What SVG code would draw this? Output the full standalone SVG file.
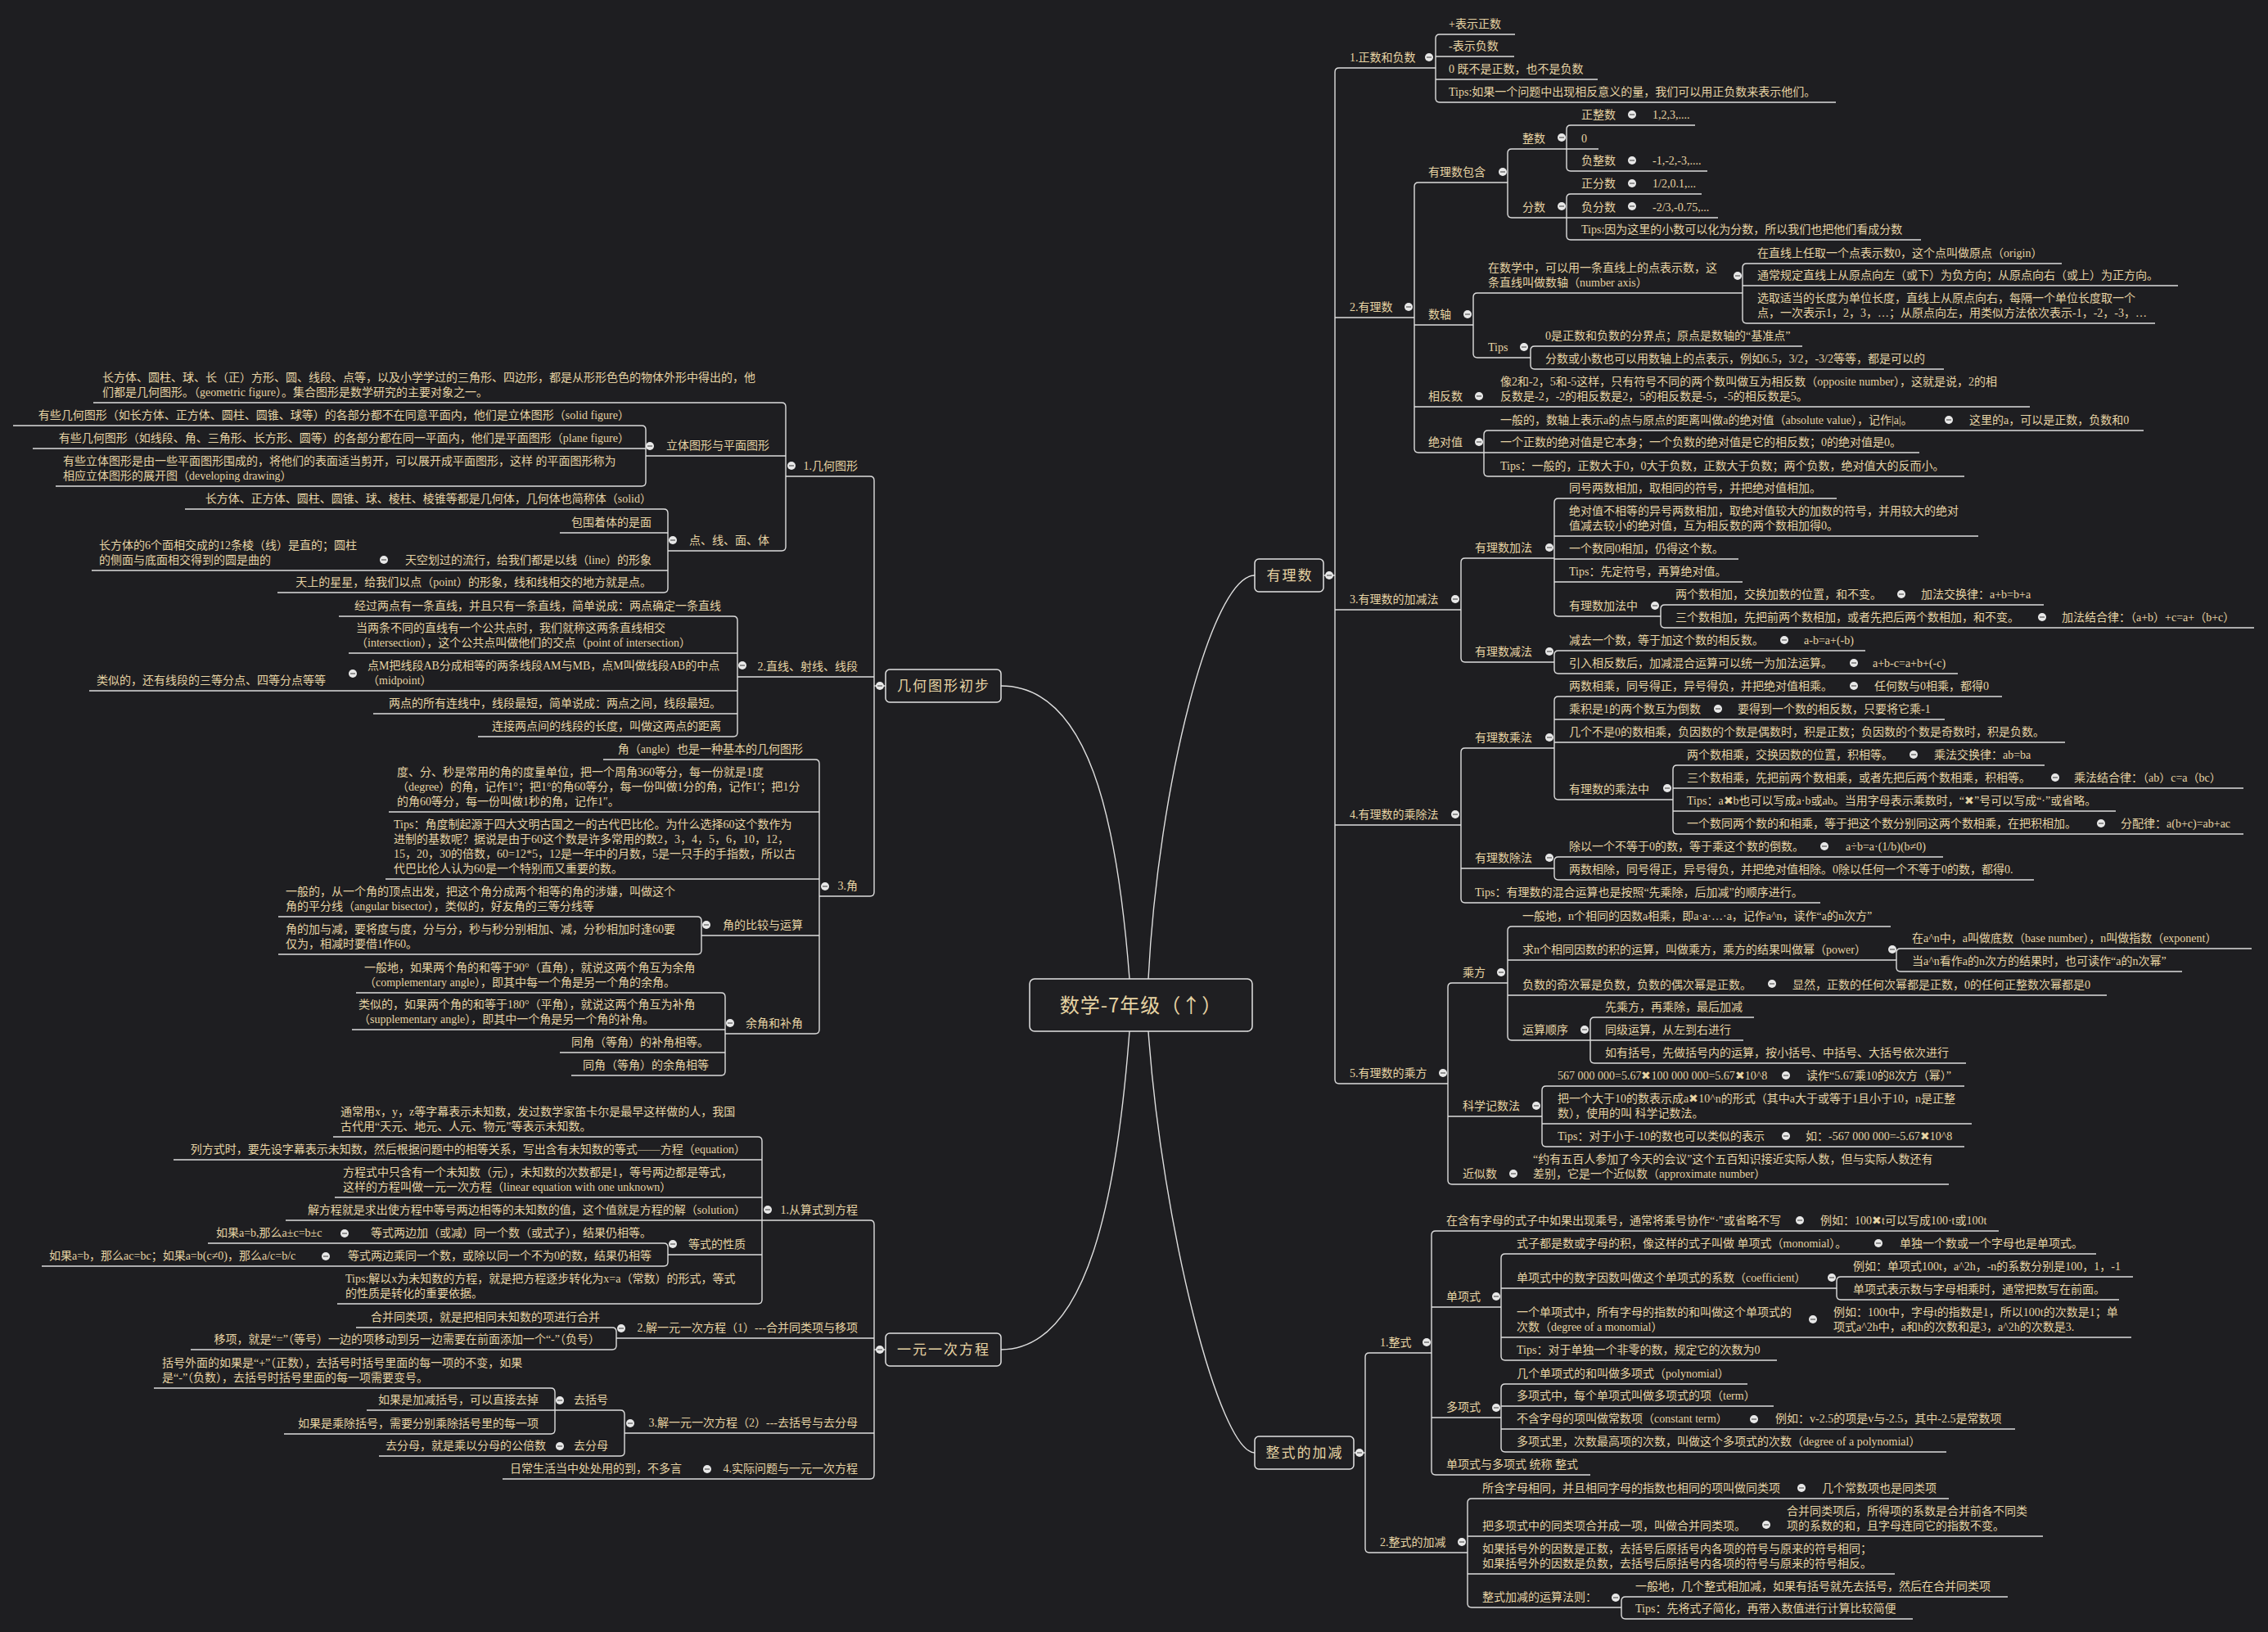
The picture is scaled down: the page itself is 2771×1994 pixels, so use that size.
<svg xmlns="http://www.w3.org/2000/svg" xmlns:xlink="http://www.w3.org/1999/xlink" width="2771" height="1994" viewBox="0 0 2771 1994">
<style>
.t{font-family:"Liberation Serif","Noto Sans CJK SC",serif;font-size:14px;fill:#e6d3a3}
.e{text-anchor:end}
.m{font-family:"Noto Sans CJK SC","Liberation Sans",sans-serif;font-size:17px;fill:#e6d3a3;letter-spacing:2px;text-anchor:middle}
.c{font-size:24px;letter-spacing:1px}
path{fill:none;stroke:#dedede;stroke-width:1.4}
rect.b{fill:#1f1f22;stroke:#e2e2e2;stroke-width:1.5}
</style>
<defs>
<g id="d"><circle r="5" fill="#e8e8e8"/><line x1="-3" x2="3" y1="0" y2="0" stroke="#6a6a6a" stroke-width="1.4"/></g>
</defs>
<rect width="2771" height="1994" fill="#1e1e21"/>

<g id="connectors">
<path d="M1403,1196 C1415,960 1480,703 1533,703"/>
<path d="M1380,1196 C1365,1000 1330,838 1223,838"/>
<path d="M1380,1260 C1365,1458 1330,1649 1223,1649"/>
<path d="M1403,1260 C1420,1500 1490,1775 1533,1775"/>
<path d="M1617,703H1631M1654,1775H1668M1082,838H1068M1082,1649H1068"/>
<path d="M1636,83Q1631,83 1631,88V1319Q1631,1324 1636,1324"/>
<path d="M1759,42Q1754,42 1754,47V120Q1754,125 1759,125"/>
<path d="M1733,223Q1728,223 1728,228V548Q1728,553 1733,553"/>
<path d="M1847,182Q1842,182 1842,187V261Q1842,266 1847,266"/>
<path d="M1919,153Q1914,153 1914,158V204Q1914,209 1919,209"/>
<path d="M1919,237Q1914,237 1914,242V288Q1914,293 1919,293"/>
<path d="M1805,358Q1800,358 1800,363V432Q1800,437 1805,437"/>
<path d="M2134,322Q2129,322 2129,327V390Q2129,395 2134,395"/>
<path d="M1875,423Q1870,423 1870,428V446Q1870,451 1875,451"/>
<path d="M1818,526Q1813,526 1813,531V577Q1813,582 1818,582"/>
<path d="M1790,682Q1785,682 1785,687V804Q1785,809 1790,809"/>
<path d="M1904,609Q1899,609 1899,614V748Q1899,753 1904,753"/>
<path d="M2034,739Q2029,739 2029,744V762Q2029,767 2034,767"/>
<path d="M1904,795Q1899,795 1899,800V818Q1899,823 1904,823"/>
<path d="M1790,914Q1785,914 1785,919V1098Q1785,1103 1790,1103"/>
<path d="M1904,851Q1899,851 1899,856V972Q1899,977 1904,977"/>
<path d="M2049,935Q2044,935 2044,940V1014Q2044,1019 2049,1019"/>
<path d="M1904,1047Q1899,1047 1899,1052V1070Q1899,1075 1904,1075"/>
<path d="M1774,1201Q1769,1201 1769,1206V1442Q1769,1447 1774,1447"/>
<path d="M1847,1132Q1842,1132 1842,1137V1266Q1842,1271 1847,1271"/>
<path d="M2322,1159Q2317,1159 2317,1164V1182Q2317,1187 2322,1187"/>
<path d="M1948,1243Q1943,1243 1943,1248V1294Q1943,1299 1948,1299"/>
<path d="M1889,1327Q1884,1327 1884,1332V1396Q1884,1401 1889,1401"/>
<path d="M1673,1653Q1668,1653 1668,1658V1892Q1668,1897 1673,1897"/>
<path d="M1754,1504Q1749,1504 1749,1509V1797Q1749,1802 1754,1802"/>
<path d="M1839,1532Q1834,1532 1834,1537V1657Q1834,1662 1839,1662"/>
<path d="M2249,1560Q2244,1560 2244,1565V1583Q2244,1588 2249,1588"/>
<path d="M1839,1691Q1834,1691 1834,1696V1769Q1834,1774 1839,1774"/>
<path d="M1798,1831Q1793,1831 1793,1836V1959Q1793,1964 1798,1964"/>
<path d="M1986,1951Q1981,1951 1981,1956V1973Q1981,1978 1986,1978"/>
<path d="M1063,582Q1068,582 1068,587V1090Q1068,1095 1063,1095"/>
<path d="M955,492Q960,492 960,497V668Q960,673 955,673"/>
<path d="M784,520Q789,520 789,525V589Q789,594 784,594"/>
<path d="M811,622Q816,622 816,627V719Q816,724 811,724"/>
<path d="M896,753Q901,753 901,758V895Q901,900 896,900"/>
<path d="M996,928Q1001,928 1001,933V1258Q1001,1263 996,1263"/>
<path d="M852,1120Q857,1120 857,1125V1161Q857,1166 852,1166"/>
<path d="M881,1213Q886,1213 886,1218V1309Q886,1314 881,1314"/>
<path d="M1063,1491Q1068,1491 1068,1496V1802Q1068,1807 1063,1807"/>
<path d="M926,1389Q931,1389 931,1394V1588Q931,1593 926,1593"/>
<path d="M811,1519Q816,1519 816,1524V1542Q816,1547 811,1547"/>
<path d="M748,1622Q753,1622 753,1627V1644Q753,1649 748,1649"/>
<path d="M758,1723Q763,1723 763,1728V1774Q763,1779 758,1779"/>
<path d="M673,1696Q678,1696 678,1701V1747Q678,1752 673,1752"/>
</g>

<g id="root"><rect class="b" x="1258" y="1196" width="272" height="64" rx="6"/><text class="m c" x="1394" y="1237">数学-7年级（↑）</text></g>
<g id="main-youlishu"><rect class="b" x="1533" y="683" width="84" height="40" rx="5"/><text class="m" x="1576" y="709">有理数</text><use xlink:href="#d" x="1624" y="703"/></g>
<g id="main-zhengshi"><rect class="b" x="1533" y="1755" width="121" height="40" rx="5"/><text class="m" x="1594" y="1781">整式的加减</text><use xlink:href="#d" x="1661" y="1775"/></g>
<g id="main-jihe"><rect class="b" x="1082" y="818" width="141" height="40" rx="5"/><text class="m" x="1153" y="844">几何图形初步</text><use xlink:href="#d" x="1075" y="838"/></g>
<g id="main-fangcheng"><rect class="b" x="1082" y="1629" width="141" height="40" rx="5"/><text class="m" x="1153" y="1655">一元一次方程</text><use xlink:href="#d" x="1075" y="1649"/></g>

<!-- 有理数 -->
<g id="r1"><path d="M1636,83H1754"/><text class="t" x="1649" y="75">1.正数和负数</text><use xlink:href="#d" x="1746" y="70"/></g>
<g id="r1a"><path d="M1759,42H1851"/><text class="t" x="1770" y="34">+表示正数</text></g>
<g id="r1b"><path d="M1754,69H1850"/><text class="t" x="1770" y="61">-表示负数</text></g>
<g id="r1c"><path d="M1754,97H1952"/><text class="t" x="1770" y="89">0 既不是正数，也不是负数</text></g>
<g id="r1d"><path d="M1759,125H2243"/><text class="t" x="1770" y="117">Tips:如果一个问题中出现相反意义的量，我们可以用正负数来表示他们。</text></g>

<g id="r2"><path d="M1631,388H1728"/><text class="t" x="1649" y="380">2.有理数</text><use xlink:href="#d" x="1721" y="375"/></g>
<g id="r2a"><path d="M1733,223H1842"/><text class="t" x="1745" y="215">有理数包含</text><use xlink:href="#d" x="1836" y="210"/></g>
<g id="r2a1"><path d="M1847,182H1914"/><text class="t" x="1860" y="174">整数</text><use xlink:href="#d" x="1908" y="168"/></g>
<g id="r2a1a"><path d="M1919,153H2071"/><text class="t" x="1932" y="145">正整数</text><use xlink:href="#d" x="1994" y="140"/><text class="t" x="2019" y="145">1,2,3,....</text></g>
<g id="r2a1b"><path d="M1914,182H1953"/><text class="t" x="1932" y="174">0</text></g>
<g id="r2a1c"><path d="M1919,209H2086"/><text class="t" x="1932" y="201">负整数</text><use xlink:href="#d" x="1994" y="196"/><text class="t" x="2019" y="201">-1,-2,-3,....</text></g>
<g id="r2a2"><path d="M1847,266H1914"/><text class="t" x="1860" y="258">分数</text><use xlink:href="#d" x="1908" y="252"/></g>
<g id="r2a2a"><path d="M1919,237H2079"/><text class="t" x="1932" y="229">正分数</text><use xlink:href="#d" x="1994" y="224"/><text class="t" x="2019" y="229">1/2,0.1,...</text></g>
<g id="r2a2b"><path d="M1914,266H2099"/><text class="t" x="1932" y="258">负分数</text><use xlink:href="#d" x="1994" y="252"/><text class="t" x="2019" y="258">-2/3,-0.75,...</text></g>
<g id="r2a2c"><path d="M1919,293H2347"/><text class="t" x="1932" y="285">Tips:因为这里的小数可以化为分数，所以我们也把他们看成分数</text></g>
<g id="r2b"><path d="M1728,397H1800"/><text class="t" x="1745" y="389">数轴</text><use xlink:href="#d" x="1793" y="384"/></g>
<g id="r2b1"><path d="M1805,358H2129"/><text class="t" x="1818" y="332">在数学中，可以用一条直线上的点表示数，这<tspan x="1818" dy="18">条直线叫做数轴（number axis）</tspan></text><use xlink:href="#d" x="2123" y="337"/></g>
<g id="r2b1a"><path d="M2134,322H2519"/><text class="t" x="2147" y="314">在直线上任取一个点表示数0，这个点叫做原点（origin）</text></g>
<g id="r2b1b"><path d="M2129,349H2661"/><text class="t" x="2147" y="341">通常规定直线上从原点向左（或下）为负方向；从原点向右（或上）为正方向。</text></g>
<g id="r2b1c"><path d="M2134,395H2633"/><text class="t" x="2147" y="369">选取适当的长度为单位长度，直线上从原点向右，每隔一个单位长度取一个<tspan x="2147" dy="18">点，一次表示1，2，3，…；从原点向左，用类似方法依次表示-1，-2，-3，…</tspan></text></g>
<g id="r2b2"><path d="M1805,437H1870"/><text class="t" x="1818" y="429">Tips</text><use xlink:href="#d" x="1862" y="424"/></g>
<g id="r2b2a"><path d="M1875,423H2202"/><text class="t" x="1888" y="415">0是正数和负数的分界点；原点是数轴的“基准点”</text></g>
<g id="r2b2b"><path d="M1875,451H2375"/><text class="t" x="1888" y="443">分数或小数也可以用数轴上的点表示，例如6.5，3/2，-3/2等等，都是可以的</text></g>
<g id="r2c"><path d="M1728,497H2480"/><text class="t" x="1745" y="489">相反数</text><use xlink:href="#d" x="1807" y="484"/><text class="t" x="1833" y="471">像2和-2，5和-5这样，只有符号不同的两个数叫做互为相反数（opposite number），这就是说，2的相<tspan x="1833" dy="18">反数是-2，-2的相反数是2，5的相反数是-5，-5的相反数是5。</tspan></text></g>
<g id="r2d"><path d="M1733,553H1813"/><text class="t" x="1745" y="545">绝对值</text><use xlink:href="#d" x="1807" y="540"/></g>
<g id="r2d1"><path d="M1818,526H2619"/><text class="t" x="1833" y="518">一般的，数轴上表示a的点与原点的距离叫做a的绝对值（absolute value），记作|a|。</text><use xlink:href="#d" x="2381" y="513"/><text class="t" x="2406" y="518">这里的a，可以是正数，负数和0</text></g>
<g id="r2d2"><path d="M1813,553H2345"/><text class="t" x="1833" y="545">一个正数的绝对值是它本身；一个负数的绝对值是它的相反数；0的绝对值是0。</text></g>
<g id="r2d3"><path d="M1818,582H2400"/><text class="t" x="1833" y="574">Tips：一般的，正数大于0，0大于负数，正数大于负数；两个负数，绝对值大的反而小。</text></g>

<g id="r3"><path d="M1631,745H1785"/><text class="t" x="1649" y="737">3.有理数的加减法</text><use xlink:href="#d" x="1778" y="732"/></g>
<g id="r3a"><path d="M1790,682H1899"/><text class="t" x="1802" y="674">有理数加法</text><use xlink:href="#d" x="1893" y="669"/></g>
<g id="r3a1"><path d="M1904,609H2244"/><text class="t" x="1917" y="601">同号两数相加，取相同的符号，并把绝对值相加。</text></g>
<g id="r3a2"><path d="M1899,655H2417"/><text class="t" x="1917" y="629">绝对值不相等的异号两数相加，取绝对值较大的加数的符号，并用较大的绝对<tspan x="1917" dy="18">值减去较小的绝对值，互为相反数的两个数相加得0。</tspan></text></g>
<g id="r3a3"><path d="M1899,683H2124"/><text class="t" x="1917" y="675">一个数同0相加，仍得这个数。</text></g>
<g id="r3a4"><path d="M1899,711H2129"/><text class="t" x="1917" y="703">Tips：先定符号，再算绝对值。</text></g>
<g id="r3a5"><path d="M1904,753H2029"/><text class="t" x="1917" y="745">有理数加法中</text><use xlink:href="#d" x="2022" y="740"/></g>
<g id="r3a5a"><path d="M2034,739H2497"/><text class="t" x="2047" y="731">两个数相加，交换加数的位置，和不变。</text><use xlink:href="#d" x="2323" y="726"/><text class="t" x="2347" y="731">加法交换律：a+b=b+a</text></g>
<g id="r3a5b"><path d="M2034,767H2754"/><text class="t" x="2047" y="759">三个数相加，先把前两个数相加，或者先把后两个数相加，和不变。</text><use xlink:href="#d" x="2495" y="754"/><text class="t" x="2519" y="759">加法结合律：（a+b）+c=a+（b+c）</text></g>
<g id="r3b"><path d="M1790,809H1899"/><text class="t" x="1802" y="801">有理数减法</text><use xlink:href="#d" x="1893" y="796"/></g>
<g id="r3b1"><path d="M1904,795H2279"/><text class="t" x="1917" y="787">减去一个数，等于加这个数的相反数。</text><use xlink:href="#d" x="2180" y="782"/><text class="t" x="2204" y="787">a-b=a+(-b)</text></g>
<g id="r3b2"><path d="M1904,823H2392"/><text class="t" x="1917" y="815">引入相反数后，加减混合运算可以统一为加法运算。</text><use xlink:href="#d" x="2265" y="810"/><text class="t" x="2288" y="815">a+b-c=a+b+(-c)</text></g>

<g id="r4"><path d="M1631,1008H1785"/><text class="t" x="1649" y="1000">4.有理数的乘除法</text><use xlink:href="#d" x="1778" y="995"/></g>
<g id="r4a"><path d="M1790,914H1899"/><text class="t" x="1802" y="906">有理数乘法</text><use xlink:href="#d" x="1893" y="901"/></g>
<g id="r4a1"><path d="M1904,851H2446"/><text class="t" x="1917" y="843">两数相乘，同号得正，异号得负，并把绝对值相乘。</text><use xlink:href="#d" x="2265" y="838"/><text class="t" x="2290" y="843">任何数与0相乘，都得0</text></g>
<g id="r4a2"><path d="M1899,879H2376"/><text class="t" x="1917" y="871">乘积是1的两个数互为倒数</text><use xlink:href="#d" x="2099" y="866"/><text class="t" x="2123" y="871">要得到一个数的相反数，只要将它乘-1</text></g>
<g id="r4a3"><path d="M1899,907H2523"/><text class="t" x="1917" y="899">几个不是0的数相乘，负因数的个数是偶数时，积是正数；负因数的个数是奇数时，积是负数。</text></g>
<g id="r4a4"><path d="M1904,977H2044"/><text class="t" x="1917" y="969">有理数的乘法中</text><use xlink:href="#d" x="2037" y="963"/></g>
<g id="r4a4a"><path d="M2049,935H2498"/><text class="t" x="2061" y="927">两个数相乘，交换因数的位置，积相等。</text><use xlink:href="#d" x="2338" y="922"/><text class="t" x="2363" y="927">乘法交换律：ab=ba</text></g>
<g id="r4a4b"><path d="M2044,963H2741"/><text class="t" x="2061" y="955">三个数相乘，先把前两个数相乘，或者先把后两个数相乘，积相等。</text><use xlink:href="#d" x="2511" y="950"/><text class="t" x="2534" y="955">乘法结合律：（ab）c=a（bc）</text></g>
<g id="r4a4c"><path d="M2044,991H2585"/><text class="t" x="2061" y="983">Tips：a✖b也可以写成a·b或ab。当用字母表示乘数时，“✖”号可以写成“·”或省略。</text></g>
<g id="r4a4d"><path d="M2049,1019H2741"/><text class="t" x="2061" y="1011">一个数同两个数的和相乘，等于把这个数分别同这两个数相乘，在把积相加。</text><use xlink:href="#d" x="2567" y="1006"/><text class="t" x="2591" y="1011">分配律：a(b+c)=ab+ac</text></g>
<g id="r4b"><path d="M1785,1061H1899"/><text class="t" x="1802" y="1053">有理数除法</text><use xlink:href="#d" x="1893" y="1048"/></g>
<g id="r4b1"><path d="M1904,1047H2374"/><text class="t" x="1917" y="1039">除以一个不等于0的数，等于乘这个数的倒数。</text><use xlink:href="#d" x="2229" y="1034"/><text class="t" x="2255" y="1039">a÷b=a·(1/b)(b≠0)</text></g>
<g id="r4b2"><path d="M1904,1075H2485"/><text class="t" x="1917" y="1067">两数相除，同号得正，异号得负，并把绝对值相除。0除以任何一个不等于0的数，都得0.</text></g>
<g id="r4c"><path d="M1790,1103H2224"/><text class="t" x="1802" y="1095">Tips：有理数的混合运算也是按照“先乘除，后加减”的顺序进行。</text></g>

<g id="r5"><path d="M1636,1324H1769"/><text class="t" x="1649" y="1316">5.有理数的乘方</text><use xlink:href="#d" x="1763" y="1311"/></g>
<g id="r5a"><path d="M1774,1201H1842"/><text class="t" x="1787" y="1193">乘方</text><use xlink:href="#d" x="1834" y="1188"/></g>
<g id="r5a1"><path d="M1847,1132H2310"/><text class="t" x="1860" y="1124">一般地，n个相同的因数a相乘，即a·a·…·a，记作a^n，读作“a的n次方”</text></g>
<g id="r5a2"><path d="M1842,1173H2317"/><text class="t" x="1860" y="1165">求n个相同因数的积的运算，叫做乘方，乘方的结果叫做幂（power）</text><use xlink:href="#d" x="2312" y="1160"/></g>
<g id="r5a2a"><path d="M2322,1159H2751"/><text class="t" x="2336" y="1151">在a^n中，a叫做底数（base number），n叫做指数（exponent）</text></g>
<g id="r5a2b"><path d="M2322,1187H2666"/><text class="t" x="2336" y="1179">当a^n看作a的n次方的结果时，也可读作“a的n次幂”</text></g>
<g id="r5a3"><path d="M1842,1216H2574"/><text class="t" x="1860" y="1208">负数的奇次幂是负数，负数的偶次幂是正数。</text><use xlink:href="#d" x="2165" y="1202"/><text class="t" x="2190" y="1208">显然，正数的任何次幂都是正数，0的任何正整数次幂都是0</text></g>
<g id="r5a4"><path d="M1847,1271H1943"/><text class="t" x="1860" y="1263">运算顺序</text><use xlink:href="#d" x="1936" y="1258"/></g>
<g id="r5a4a"><path d="M1948,1243H2143"/><text class="t" x="1961" y="1235">先乘方，再乘除，最后加减</text></g>
<g id="r5a4b"><path d="M1943,1271H2130"/><text class="t" x="1961" y="1263">同级运算，从左到右进行</text></g>
<g id="r5a4c"><path d="M1948,1299H2402"/><text class="t" x="1961" y="1291">如有括号，先做括号内的运算，按小括号、中括号、大括号依次进行</text></g>
<g id="r5b"><path d="M1769,1364H1884"/><text class="t" x="1787" y="1356">科学记数法</text><use xlink:href="#d" x="1877" y="1351"/></g>
<g id="r5b1"><path d="M1889,1327H2400"/><text class="t" x="1903" y="1319">567 000 000=5.67✖100 000 000=5.67✖10^8</text><use xlink:href="#d" x="2182" y="1314"/><text class="t" x="2207" y="1319">读作“5.67乘10的8次方（幂）”</text></g>
<g id="r5b2"><path d="M1884,1373H2409"/><text class="t" x="1903" y="1347">把一个大于10的数表示成a✖10^n的形式（其中a大于或等于1且小于10，n是正整<tspan x="1903" dy="18">数），使用的叫 科学记数法。</tspan></text></g>
<g id="r5b3"><path d="M1889,1401H2400"/><text class="t" x="1903" y="1393">Tips：对于小于-10的数也可以类似的表示</text><use xlink:href="#d" x="2182" y="1388"/><text class="t" x="2206" y="1393">如：-567 000 000=-5.67✖10^8</text></g>
<g id="r5c"><path d="M1774,1447H2381"/><text class="t" x="1787" y="1439">近似数</text><use xlink:href="#d" x="1849" y="1434"/><text class="t" x="1873" y="1421">“约有五百人参加了今天的会议”这个五百知识接近实际人数，但与实际人数还有<tspan x="1873" dy="18">差别，它是一个近似数（approximate number）</tspan></text></g>

<!-- 整式的加减 -->
<g id="z1"><path d="M1673,1653H1749"/><text class="t" x="1686" y="1645">1.整式</text><use xlink:href="#d" x="1743" y="1640"/></g>
<g id="z1a"><path d="M1754,1504H2442"/><text class="t" x="1767" y="1496">在含有字母的式子中如果出现乘号，通常将乘号协作“·”或省略不写</text><use xlink:href="#d" x="2199" y="1491"/><text class="t" x="2224" y="1496">例如：100✖t可以写成100·t或100t</text></g>
<g id="z1b"><path d="M1749,1597H1834"/><text class="t" x="1767" y="1589">单项式</text><use xlink:href="#d" x="1828" y="1584"/></g>
<g id="z1b1"><path d="M1839,1532H2561"/><text class="t" x="1853" y="1524">式子都是数或字母的积，像这样的式子叫做 单项式（monomial）。</text><use xlink:href="#d" x="2295" y="1519"/><text class="t" x="2321" y="1524">单独一个数或一个字母也是单项式。</text></g>
<g id="z1b2"><path d="M1834,1574H2244"/><text class="t" x="1853" y="1566">单项式中的数字因数叫做这个单项式的系数（coefficient）</text><use xlink:href="#d" x="2238" y="1561"/></g>
<g id="z1b2a"><path d="M2249,1560H2606"/><text class="t" x="2264" y="1552">例如：单项式100t，a^2h，-n的系数分别是100，1，-1</text></g>
<g id="z1b2b"><path d="M2249,1588H2589"/><text class="t" x="2264" y="1580">单项式表示数与字母相乘时，通常把数写在前面。</text></g>
<g id="z1b3"><path d="M1834,1634H2604"/><text class="t" x="1853" y="1608">一个单项式中，所有字母的指数的和叫做这个单项式的<tspan x="1853" dy="18">次数（degree of a monomial）</tspan></text><use xlink:href="#d" x="2215" y="1612"/><text class="t" x="2240" y="1608">例如：100t中，字母t的指数是1，所以100t的次数是1；单<tspan x="2240" dy="18">项式a^2h中，a和h的次数和是3，a^2h的次数是3.</tspan></text></g>
<g id="z1b4"><path d="M1839,1662H2171"/><text class="t" x="1853" y="1654">Tips：对于单独一个非零的数，规定它的次数为0</text></g>
<g id="z1c"><path d="M1749,1732H1834"/><text class="t" x="1767" y="1724">多项式</text><use xlink:href="#d" x="1828" y="1720"/></g>
<g id="z1c1"><path d="M1839,1691H2135"/><text class="t" x="1853" y="1683">几个单项式的和叫做多项式（polynomial）</text></g>
<g id="z1c2"><path d="M1834,1718H2167"/><text class="t" x="1853" y="1710">多项式中，每个单项式叫做多项式的项（term）</text></g>
<g id="z1c3"><path d="M1834,1746H2462"/><text class="t" x="1853" y="1738">不含字母的项叫做常数项（constant term）</text><use xlink:href="#d" x="2143" y="1734"/><text class="t" x="2169" y="1738">例如：v-2.5的项是v与-2.5，其中-2.5是常数项</text></g>
<g id="z1c4"><path d="M1839,1774H2378"/><text class="t" x="1853" y="1766">多项式里，次数最高项的次数，叫做这个多项式的次数（degree of a polynomial）</text></g>
<g id="z1d"><path d="M1754,1802H1943"/><text class="t" x="1767" y="1794">单项式与多项式 统称 整式</text></g>
<g id="z2"><path d="M1673,1897H1793"/><text class="t" x="1686" y="1889">2.整式的加减</text><use xlink:href="#d" x="1786" y="1884"/></g>
<g id="z2a"><path d="M1798,1831H2381"/><text class="t" x="1811" y="1823">所含字母相同，并且相同字母的指数也相同的项叫做同类项</text><use xlink:href="#d" x="2201" y="1818"/><text class="t" x="2226" y="1823">几个常数项也是同类项</text></g>
<g id="z2b"><path d="M1793,1877H2496"/><text class="t" x="1811" y="1869">把多项式中的同类项合并成一项，叫做合并同类项。</text><use xlink:href="#d" x="2158" y="1863"/><text class="t" x="2183" y="1851">合并同类项后，所得项的系数是合并前各不同类<tspan x="2183" dy="18">项的系数的和，且字母连同它的指数不变。</tspan></text></g>
<g id="z2c"><path d="M1793,1923H2315"/><text class="t" x="1811" y="1897">如果括号外的因数是正数，去括号后原括号内各项的符号与原来的符号相同；<tspan x="1811" dy="18">如果括号外的因数是负数，去括号后原括号内各项的符号与原来的符号相反。</tspan></text></g>
<g id="z2d"><path d="M1798,1964H1981"/><text class="t" x="1811" y="1956">整式加减的运算法则：</text><use xlink:href="#d" x="1974" y="1952"/></g>
<g id="z2d1"><path d="M1986,1951H2453"/><text class="t" x="1998" y="1943">一般地，几个整式相加减，如果有括号就先去括号，然后在合并同类项</text></g>
<g id="z2d2"><path d="M1986,1978H2337"/><text class="t" x="1998" y="1970">Tips：先将式子简化，再带入数值进行计算比较简便</text></g>

<!-- 几何图形初步 -->
<g id="g1"><path d="M1063,582H960"/><text class="t e" x="1048" y="574">1.几何图形</text><use xlink:href="#d" x="967" y="569"/></g>
<g id="g1a"><path d="M955,492H114"/><text class="t" x="125" y="466">长方体、圆柱、球、长（正）方形、圆、线段、点等，以及小学学过的三角形、四边形，都是从形形色色的物体外形中得出的，他<tspan x="125" dy="18">们都是几何图形。（geometric figure）。集合图形是数学研究的主要对象之一。</tspan></text></g>
<g id="g1b"><path d="M960,557H789"/><text class="t e" x="940" y="549">立体图形与平面图形</text><use xlink:href="#d" x="794" y="545"/></g>
<g id="g1b1"><path d="M784,520H16"/><text class="t e" x="769" y="512">有些几何图形（如长方体、正方体、圆柱、圆锥、球等）的各部分都不在同意平面内，他们是立体图形（solid figure）</text></g>
<g id="g1b2"><path d="M789,548H40"/><text class="t e" x="769" y="540">有些几何图形（如线段、角、三角形、长方形、圆等）的各部分都在同一平面内，他们是平面图形（plane figure）</text></g>
<g id="g1b3"><path d="M784,594H68"/><text class="t" x="77" y="568">有些立体图形是由一些平面图形围成的，将他们的表面适当剪开，可以展开成平面图形，这样 的平面图形称为<tspan x="77" dy="18">相应立体图形的展开图（developing drawing）</tspan></text></g>
<g id="g1c"><path d="M955,673H816"/><text class="t e" x="940" y="665">点、线、面、体</text><use xlink:href="#d" x="822" y="660"/></g>
<g id="g1c1"><path d="M811,622H226"/><text class="t e" x="796" y="614">长方体、正方体、圆柱、圆锥、球、棱柱、棱锥等都是几何体，几何体也简称体（solid）</text></g>
<g id="g1c2"><path d="M816,651H684"/><text class="t e" x="796" y="643">包围着体的是面</text></g>
<g id="g1c3"><path d="M816,697H112"/><text class="t e" x="796" y="689">天空划过的流行，给我们都是以线（line）的形象</text><use xlink:href="#d" x="469" y="684"/><text class="t" x="121" y="671">长方体的6个面相交成的12条棱（线）是直的；圆柱<tspan x="121" dy="18">的侧面与底面相交得到的圆是曲的</tspan></text></g>
<g id="g1c4"><path d="M811,724H339"/><text class="t e" x="796" y="716">天上的星星，给我们以点（point）的形象，线和线相交的地方就是点。</text></g>
<g id="g2"><path d="M1068,827H901"/><text class="t e" x="1048" y="819">2.直线、射线、线段</text><use xlink:href="#d" x="907" y="813"/></g>
<g id="g2a"><path d="M896,753H414"/><text class="t e" x="881" y="745">经过两点有一条直线，并且只有一条直线，简单说成：两点确定一条直线</text></g>
<g id="g2b"><path d="M901,798H426"/><text class="t" x="435" y="772">当两条不同的直线有一个公共点时，我们就称这两条直线相交<tspan x="435" dy="18">（intersection），这个公共点叫做他们的交点（point of intersection）</tspan></text></g>
<g id="g2c"><path d="M901,844H109"/><text class="t" x="449" y="818">点M把线段AB分成相等的两条线段AM与MB，点M叫做线段AB的中点<tspan x="449" dy="18">（midpoint）</tspan></text><use xlink:href="#d" x="431" y="823"/><text class="t" x="118" y="836">类似的，还有线段的三等分点、四等分点等等</text></g>
<g id="g2d"><path d="M901,872H456"/><text class="t e" x="881" y="864">两点的所有连线中，线段最短，简单说成：两点之间，线段最短。</text></g>
<g id="g2e"><path d="M896,900H584"/><text class="t e" x="881" y="892">连接两点间的线段的长度，叫做这两点的距离</text></g>
<g id="g3"><path d="M1063,1095H1001"/><text class="t e" x="1048" y="1087">3.角</text><use xlink:href="#d" x="1008" y="1083"/></g>
<g id="g3a"><path d="M996,928H737"/><text class="t e" x="981" y="920">角（angle）也是一种基本的几何图形</text></g>
<g id="g3b"><path d="M1001,992H475"/><text class="t" x="485" y="948">度、分、秒是常用的角的度量单位，把一个周角360等分，每一份就是1度<tspan x="485" dy="18">（degree）的角，记作1°；把1°的角60等分，每一份叫做1分的角，记作1′；把1分</tspan><tspan x="485" dy="18">的角60等分，每一份叫做1秒的角，记作1″。</tspan></text></g>
<g id="g3c"><path d="M1001,1074H471"/><text class="t" x="481" y="1012">Tips：角度制起源于四大文明古国之一的古代巴比伦。为什么选择60这个数作为<tspan x="481" dy="18">进制的基数呢？据说是由于60这个数是许多常用的数2，3，4，5，6，10，12，</tspan><tspan x="481" dy="18">15，20，30的倍数，60=12*5，12是一年中的月数，5是一只手的手指数，所以古</tspan><tspan x="481" dy="18">代巴比伦人认为60是一个特别而又重要的数。</tspan></text></g>
<g id="g3d"><path d="M1001,1143H857"/><text class="t e" x="981" y="1135">角的比较与运算</text><use xlink:href="#d" x="863" y="1130"/></g>
<g id="g3d1"><path d="M852,1120H340"/><text class="t" x="349" y="1094">一般的，从一个角的顶点出发，把这个角分成两个相等的角的涉嫌，叫做这个<tspan x="349" dy="18">角的平分线（angular bisector），类似的，好友角的三等分线等</tspan></text></g>
<g id="g3d2"><path d="M852,1166H340"/><text class="t" x="349" y="1140">角的加与减，要将度与度，分与分，秒与秒分别相加、减，分秒相加时逢60要<tspan x="349" dy="18">仅为，相减时要借1作60。</tspan></text></g>
<g id="g3e"><path d="M996,1263H886"/><text class="t e" x="981" y="1255">余角和补角</text><use xlink:href="#d" x="892" y="1250"/></g>
<g id="g3e1"><path d="M881,1213H435"/><text class="t" x="445" y="1187">一般地，如果两个角的和等于90°（直角），就说这两个角互为余角<tspan x="445" dy="18">（complementary angle），即其中每一个角是另一个角的余角。</tspan></text></g>
<g id="g3e2"><path d="M886,1258H430"/><text class="t" x="438" y="1232">类似的，如果两个角的和等于180°（平角），就说这两个角互为补角<tspan x="438" dy="18">（supplementary angle），即其中一个角是另一个角的补角。</tspan></text></g>
<g id="g3e3"><path d="M886,1286H684"/><text class="t e" x="866" y="1278">同角（等角）的补角相等。</text></g>
<g id="g3e4"><path d="M881,1314H698"/><text class="t e" x="866" y="1306">同角（等角）的余角相等</text></g>

<!-- 一元一次方程 -->
<g id="e1"><path d="M1063,1491H931"/><text class="t e" x="1048" y="1483">1.从算式到方程</text><use xlink:href="#d" x="938" y="1478"/></g>
<g id="e1a"><path d="M926,1389H407"/><text class="t" x="416" y="1363">通常用x，y，z等字幕表示未知数，发过数学家笛卡尔是最早这样做的人，我国<tspan x="416" dy="18">古代用“天元、地元、人元、物元”等表示未知数。</tspan></text></g>
<g id="e1b"><path d="M931,1417H212"/><text class="t e" x="911" y="1409">列方式时，要先设字幕表示未知数，然后根据问题中的相等关系，写出含有未知数的等式——方程（equation）</text></g>
<g id="e1c"><path d="M931,1463H409"/><text class="t" x="419" y="1437">方程式中只含有一个未知数（元），未知数的次数都是1，等号两边都是等式，<tspan x="419" dy="18">这样的方程叫做一元一次方程（linear equation with one unknown）</tspan></text></g>
<g id="e1d"><path d="M931,1491H349"/><text class="t e" x="911" y="1483">解方程就是求出使方程中等号两边相等的未知数的值，这个值就是方程的解（solution）</text></g>
<g id="e1e"><path d="M931,1533H816"/><text class="t e" x="911" y="1525">等式的性质</text><use xlink:href="#d" x="822" y="1520"/></g>
<g id="e1e1"><path d="M811,1519H254"/><text class="t e" x="796" y="1511">等式两边加（或减）同一个数（或式子），结果仍相等。</text><use xlink:href="#d" x="421" y="1507"/><text class="t" x="264" y="1511">如果a=b,那么a±c=b±c</text></g>
<g id="e1e2"><path d="M811,1547H51"/><text class="t e" x="796" y="1539">等式两边乘同一个数，或除以同一个不为0的数，结果仍相等</text><use xlink:href="#d" x="398" y="1535"/><text class="t" x="60" y="1539">如果a=b，那么ac=bc；如果a=b(c≠0)，那么a/c=b/c</text></g>
<g id="e1f"><path d="M926,1593H412"/><text class="t" x="422" y="1567">Tips:解以x为未知数的方程，就是把方程逐步转化为x=a（常数）的形式，等式<tspan x="422" dy="18">的性质是转化的重要依据。</tspan></text></g>
<g id="e2"><path d="M1068,1635H753"/><text class="t e" x="1048" y="1627">2.解一元一次方程（1）---合并同类项与移项</text><use xlink:href="#d" x="759" y="1623"/></g>
<g id="e2a"><path d="M748,1622H435"/><text class="t e" x="733" y="1614">合并同类项，就是把相同未知数的项进行合并</text></g>
<g id="e2b"><path d="M748,1649H233"/><text class="t e" x="733" y="1641">移项，就是“=”（等号）一边的项移动到另一边需要在前面添加一个“-”（负号）</text></g>
<g id="e3"><path d="M1068,1751H763"/><text class="t e" x="1048" y="1743">3.解一元一次方程（2）---去括号与去分母</text><use xlink:href="#d" x="770" y="1739"/></g>
<g id="e3a"><path d="M758,1723H678"/><text class="t e" x="743" y="1715">去括号</text><use xlink:href="#d" x="684" y="1711"/></g>
<g id="e3a1"><path d="M673,1696H188"/><text class="t" x="198" y="1670">括号外面的如果是“+”（正数），去括号时括号里面的每一项的不变，如果<tspan x="198" dy="18">是“-”（负数），去括号时括号里面的每一项需要变号。</tspan></text></g>
<g id="e3a2"><path d="M678,1723H448"/><text class="t e" x="658" y="1715">如果是加减括号，可以直接去掉</text></g>
<g id="e3a3"><path d="M673,1752H347"/><text class="t e" x="658" y="1744">如果是乘除括号，需要分别乘除括号里的每一项</text></g>
<g id="e3b"><path d="M758,1779H463"/><text class="t e" x="743" y="1771">去分母</text><use xlink:href="#d" x="684" y="1767"/><text class="t" x="471" y="1771">去分母，就是乘以分母的公倍数</text></g>
<g id="e4"><path d="M1063,1807H614"/><text class="t e" x="1048" y="1799">4.实际问题与一元一次方程</text><use xlink:href="#d" x="864" y="1795"/><text class="t" x="623" y="1799">日常生活当中处处用的到，不多言</text></g>
</svg>
